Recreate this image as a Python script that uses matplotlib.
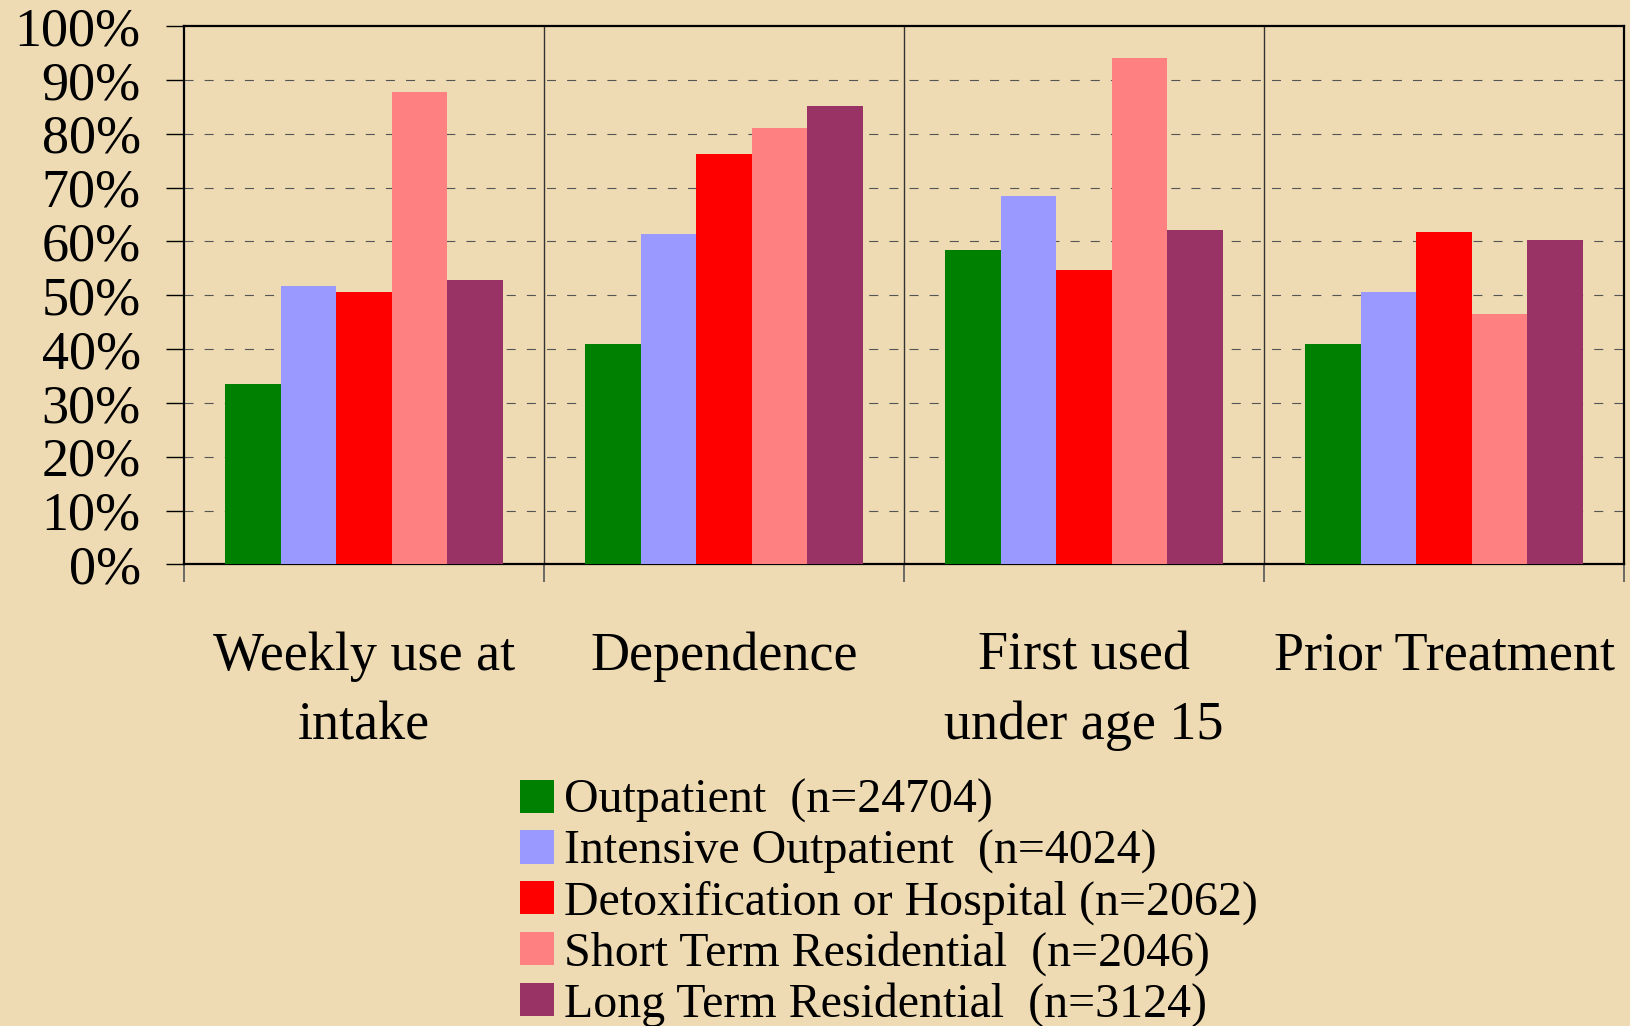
import matplotlib
matplotlib.use("Agg")
import matplotlib.pyplot as plt
import numpy as np

# ---- data ----
categories = ["Weekly use at\nintake", "Dependence", "First used\nunder age 15", "Prior Treatment"]
series_labels = [
    "Outpatient  (n=24704)",
    "Intensive Outpatient  (n=4024)",
    "Detoxification or Hospital (n=2062)",
    "Short Term Residential  (n=2046)",
    "Long Term Residential  (n=3124)",
]
outpatient = [33.5, 40.9, 58.4, 40.9]
intensive_outpatient = [51.7, 61.3, 68.4, 50.6]
detox_hospital = [50.6, 76.3, 54.6, 61.8]
short_term_res = [87.8, 81.0, 94.0, 46.5]
long_term_res = [52.8, 85.1, 62.1, 60.3]
series_values = [outpatient, intensive_outpatient, detox_hospital, short_term_res, long_term_res]
series_colors = ["#008000", "#9999FF", "#FF0000", "#FF8080", "#993366"]
y_ticks = [0, 10, 20, 30, 40, 50, 60, 70, 80, 90, 100]
y_tick_labels = [f"{v}%" for v in y_ticks]

# ---- style ----
plt.rcParams["font.family"] = ["Liberation Serif", "DejaVu Serif"]
plt.rcParams["lines.scale_dashes"] = False
BG = "#EEDBB3"

W, H = 1630, 1026
fig = plt.figure(figsize=(W / 100, H / 100), dpi=100, facecolor=BG)
ax = fig.add_axes([184 / W, 1 - 564.4 / H, 1440 / W, (564.4 - 26) / H])
ax.set_facecolor("none")

x = np.arange(len(categories))
bw = 0.154
handles = []
for i, (vals, col, lab) in enumerate(zip(series_values, series_colors, series_labels)):
    b = ax.bar(x + (i - 2) * bw, vals, width=bw, color=col, label=lab, zorder=3, linewidth=0)
    handles.append(b)

ax.set_xlim(-0.5, len(categories) - 0.5)
ax.set_ylim(0, 100)

# y axis
ax.set_yticks(y_ticks)
ax.set_yticklabels(y_tick_labels)
ax.tick_params(axis="y", direction="out", length=13.2, width=1, color="black",
               labelsize=39, pad=18)

# x axis: major ticks at boundaries, minor (labelled) at centres
ax.set_xticks(np.arange(len(categories) + 1) - 0.5)
ax.set_xticklabels([])
ax.set_xticks(x, minor=True)
ax.set_xticklabels(categories, minor=True, linespacing=1.5)
ax.tick_params(axis="x", which="major", direction="out", length=13.2, width=1.2, color="#555555")
ax.tick_params(axis="x", which="minor", length=0, labelsize=39, pad=48)

# gridlines
for v in y_ticks[1:-1]:
    ax.axhline(v, color="#555555", lw=0.8, dashes=(6.5, 8), zorder=1)
for b in np.arange(1, len(categories)) - 0.5:
    ax.axvline(b, color="#333333", lw=1.0, zorder=1)

for s in ax.spines.values():
    s.set_linewidth(1.6)
    s.set_color("black")

fig.legend(handles=handles, labels=series_labels, loc="center left",
           bbox_to_anchor=(520 / W, 1 - 903 / H), frameon=False, fontsize=34.5,
           handlelength=0.71, handleheight=0.69, handletextpad=0.21,
           labelspacing=0.13, borderpad=0, borderaxespad=0)

fig.savefig("out.png", dpi=100, facecolor=BG)
